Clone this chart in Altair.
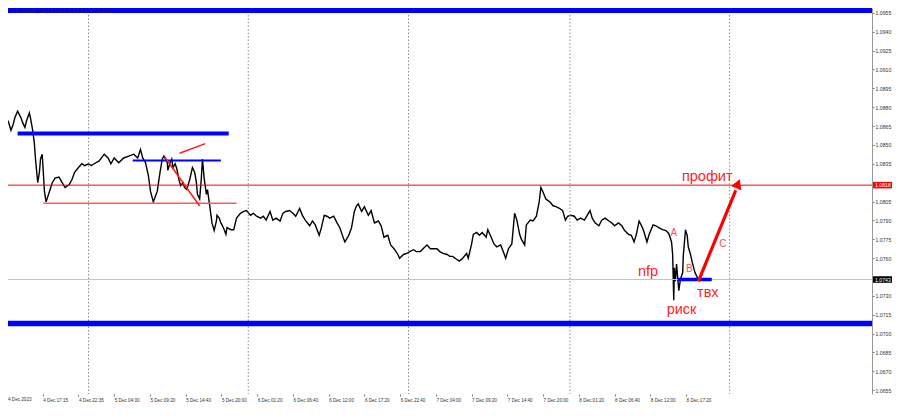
import altair as alt
import pandas as pd

# ---- price series (M5 bar index, close price) ----
bars = [2, 7, 11, 14, 19, 25, 28, 32, 35, 40, 42, 46, 49, 51, 55, 58, 60, 63, 65, 67,
        70, 76, 81, 86, 93, 98, 104, 111, 116, 121, 128, 134, 139, 146, 151, 156, 165, 174, 181, 186,
        192, 200, 209, 218, 227, 234, 239, 243, 248, 253, 257, 262, 269, 274, 278, 281, 287, 288, 292, 295,
        297, 301, 304, 308, 311, 315, 318, 322, 327, 332, 336, 339, 341, 345, 348, 350, 353, 357, 359, 362,
        366, 367, 371, 375, 376, 380, 383, 385, 389, 392, 394, 401, 406, 411, 418, 424, 429, 436, 441, 447,
        454, 459, 464, 471, 476, 482, 489, 494, 499, 506, 512, 517, 524, 529, 534, 542, 547, 552, 559, 563,
        568, 573, 578, 585, 591, 596, 603, 605, 612, 617, 622, 626, 629, 635, 640, 647, 652, 658, 665, 670,
        675, 682, 687, 693, 700, 703, 710, 716, 721, 728, 733, 740, 745, 752, 758, 763, 770, 775, 781, 788,
        793, 798, 805, 810, 816, 823, 826, 832, 835, 841, 846, 851, 858, 861, 867, 872, 877, 884, 890, 893,
        898, 904, 909, 913, 918, 921, 927, 930, 937, 942, 948, 953, 956, 960, 965, 972, 978, 983, 990, 995,
        1000, 1004, 1009, 1016, 1021, 1027, 1034, 1039, 1044, 1048, 1053, 1060, 1065, 1071, 1078, 1083, 1088, 1095, 1101, 1106,
        1113, 1118, 1123, 1127, 1132, 1138, 1141, 1146, 1150, 1157, 1162, 1167, 1174, 1180, 1185, 1190, 1192, 1194, 1195, 1197,
        1199, 1203, 1206, 1210, 1211, 1215, 1218, 1220, 1224, 1227, 1232, 1238]
prices = [1.08692, 1.08616, 1.08662, 1.08715, 1.08768, 1.08715, 1.08677, 1.08639, 1.08692, 1.08753,
          1.08715, 1.08616, 1.08510, 1.08388, 1.08199, 1.08282, 1.08388, 1.08426, 1.08282, 1.08130,
          1.08047, 1.08130, 1.08199, 1.08236, 1.08244, 1.08206, 1.08161, 1.08183, 1.08221, 1.08282,
          1.08320, 1.08350, 1.08335, 1.08350, 1.08335, 1.08350, 1.08373, 1.08426, 1.08396, 1.08350,
          1.08396, 1.08358, 1.08396, 1.08411, 1.08426, 1.08396, 1.08464, 1.08396, 1.08358, 1.08259,
          1.08130, 1.08047, 1.08130, 1.08282, 1.08388, 1.08411, 1.08358, 1.08297, 1.08358, 1.08388,
          1.08320, 1.08350, 1.08312, 1.08221, 1.08176, 1.08199, 1.08161, 1.08145, 1.08221, 1.08320,
          1.08282, 1.08206, 1.08107, 1.08069, 1.08236, 1.08388, 1.08236, 1.08107, 1.08145, 1.08047,
          1.07918, 1.07880, 1.07819, 1.07895, 1.07940, 1.07918, 1.07880, 1.07864, 1.07826, 1.07789,
          1.07842, 1.07826, 1.07826, 1.07918, 1.07956, 1.07971, 1.07978, 1.07940, 1.07956, 1.07933,
          1.07918, 1.07933, 1.07902, 1.07971, 1.07902, 1.07918, 1.07895, 1.07956, 1.07971, 1.07978,
          1.07956, 1.07933, 1.07994, 1.07940, 1.07902, 1.07857, 1.07895, 1.07864, 1.07781, 1.07842,
          1.07940, 1.07933, 1.07918, 1.07933, 1.07880, 1.07842, 1.07751, 1.07728, 1.07781, 1.07842,
          1.07971, 1.08016, 1.08031, 1.07971, 1.08009, 1.07940, 1.07978, 1.07880, 1.07895, 1.07857,
          1.07766, 1.07781, 1.07705, 1.07675, 1.07629, 1.07599, 1.07629, 1.07637, 1.07652, 1.07667,
          1.07652, 1.07652, 1.07675, 1.07705, 1.07675, 1.07675, 1.07675, 1.07652, 1.07637, 1.07629,
          1.07614, 1.07614, 1.07591, 1.07576, 1.07599, 1.07637, 1.07599, 1.07713, 1.07789, 1.07804,
          1.07781, 1.07804, 1.07766, 1.07826, 1.07766, 1.07713, 1.07690, 1.07705, 1.07637, 1.07599,
          1.07675, 1.07713, 1.07956, 1.07902, 1.07789, 1.07751, 1.07705, 1.07864, 1.07902, 1.07895,
          1.07933, 1.08047, 1.08161, 1.08123, 1.08069, 1.08047, 1.08016, 1.08009, 1.07994, 1.07978,
          1.07902, 1.07933, 1.07940, 1.07933, 1.07902, 1.07918, 1.07902, 1.07940, 1.07978, 1.07918,
          1.07880, 1.07857, 1.07902, 1.07918, 1.07895, 1.07880, 1.07857, 1.07880, 1.07857, 1.07819,
          1.07789, 1.07781, 1.07728, 1.07789, 1.07895, 1.07842, 1.07804, 1.07728, 1.07789, 1.07864,
          1.07857, 1.07842, 1.07826, 1.07819, 1.07796, 1.07728, 1.07629, 1.07265, 1.07523, 1.07416,
          1.07553, 1.07341, 1.07432, 1.07485, 1.07614, 1.07826, 1.07781, 1.07690, 1.07629, 1.07568,
          1.07485, 1.07430]

# ---- axis text ----
x_labels = ["4 Dec 2023", "4 Dec 17:15", "4 Dec 22:35", "5 Dec 04:00", "5 Dec 09:20",
            "5 Dec 14:40", "5 Dec 20:00", "6 Dec 01:20", "6 Dec 06:40", "6 Dec 12:00",
            "6 Dec 17:20", "6 Dec 22:40", "7 Dec 04:00", "7 Dec 09:20", "7 Dec 14:40",
            "7 Dec 20:00", "8 Dec 01:20", "8 Dec 06:40", "8 Dec 12:00", "8 Dec 17:20"]
bars_per_label = 64
y_ticks = [1.0955, 1.0940, 1.0925, 1.0910, 1.0895, 1.0880, 1.0865, 1.0850, 1.0835,
           1.0805, 1.0790, 1.0775, 1.0760, 1.0730, 1.0715, 1.0700, 1.0685, 1.0670, 1.0655]
day_separators = [146, 432, 719, 1008, 1294]
title_text = "\u25bc EURUSD,M5  1.0742 1.0744 1.0741 1.0743"

# ---- drawn levels ----
blue_top = 1.0957
blue_bottom = 1.0708
profit_level = 1.0818
entry_level = 1.0743
upper_blue = {"b0": 19, "b1": 397, "p": 1.0859}
thin_blue = {"b0": 225, "b1": 383, "p": 1.08375}
pink_level = {"b0": 65, "b1": 411, "p": 1.08037}
entry_blue = {"b0": 1201, "b1": 1262, "p": 1.0743}
red_diag1 = {"b0": 309, "p0": 1.08434, "b1": 355, "p1": 1.08510}
red_diag2 = {"b0": 282, "p0": 1.08406, "b1": 345, "p1": 1.08014}
arrow = {"b0": 1238, "p0": 1.07416, "b1": 1305, "p1": 1.08138}
arrow_head = {"b": 1309, "p": 1.08191}

big_notes = pd.DataFrame({"b": [1254, 1148, 1255, 1208],
                          "p": [1.08244, 1.07492, 1.07325, 1.07189],
                          "t": ["профит", "nfp", "твх", "риск"]})
small_notes = pd.DataFrame({"b": [1194, 1222, 1282],
                            "p": [1.07796, 1.07515, 1.07713],
                            "t": ["A", "B", "C"]})
price_tags = pd.DataFrame({"p": [profit_level, entry_level],
                           "t": ["1.0818", "1.0743"],
                           "bg": ["#ff0000", "#000000"]})

W, H = 864, 386
xs = alt.Scale(domain=[1.76, 1549], nice=False, zero=False)
ys = alt.Scale(domain=[1.0652, 1.09588], nice=False, zero=False)

label_expr = "[" + ",".join("'" + s + "'" for s in x_labels) + "][round(datum.value/%d)]" % bars_per_label

AX = alt.Axis(values=[bars_per_label * i for i in range(1, len(x_labels))],
              labelExpr=label_expr, labelAlign="left", labelBaseline="top",
              labelFont="Liberation Sans", labelFontSize=4.6, labelColor="#333333",
              labelPadding=1, tickSize=2, tickColor="#777777", domain=False,
              grid=False, labelOverlap=False, labelFlush=False, title=None)
AY = alt.Axis(orient="right", values=y_ticks, format=".4f",
              labelFont="Liberation Sans", labelFontSize=5.2, labelColor="#333333",
              labelPadding=1, tickSize=2, tickColor="#777777",
              domainColor="#999999", grid=False, labelOverlap=False, labelFlush=False, title=None)


def X(f="b"):
    return alt.X(f"{f}:Q", scale=xs, axis=AX)


def Y(f="p"):
    return alt.Y(f"{f}:Q", scale=ys, axis=AY)


series = pd.DataFrame({"b": bars, "p": prices})
price_line = alt.Chart(series).mark_line(color="#000000", strokeWidth=1.4, clip=True).encode(
    x=X(), y=Y())

seps = alt.Chart(pd.DataFrame({"b": day_separators})).mark_rule(
    color="#8a8a8a", strokeDash=[1.5, 2], strokeWidth=1).encode(x=X())

gray_line = alt.Chart(pd.DataFrame({"p": [entry_level]})).mark_rule(
    color="#c4c4c4", strokeWidth=1).encode(y=Y())
red_line = alt.Chart(pd.DataFrame({"p": [profit_level]})).mark_rule(
    color="#ff0000", strokeWidth=1).encode(y=Y())
blue_full = alt.Chart(pd.DataFrame({"p": [blue_top, blue_bottom]})).mark_rule(
    color="#0000ff", strokeWidth=5.5).encode(y=Y())


def seg(d, **kw):
    return alt.Chart(pd.DataFrame([d])).mark_rule(clip=True, **kw).encode(
        x=X("b0"), x2="b1", y=Y("p"))


def diag(d, **kw):
    return alt.Chart(pd.DataFrame([d])).mark_rule(**kw).encode(
        x=X("b0"), x2="b1", y=Y("p0"), y2="p1")


upper_blue_l = seg(upper_blue, color="#0000ff", strokeWidth=4)
thin_blue_l = seg(thin_blue, color="#0000ff", strokeWidth=2)
pink_l = seg(pink_level, color="#ff5a5a", strokeWidth=1.5)
entry_blue_l = seg(entry_blue, color="#0000ff", strokeWidth=3.5)
diag1_l = diag(red_diag1, color="#ff1a1a", strokeWidth=1.5)
diag2_l = diag(red_diag2, color="#ff1a1a", strokeWidth=1.5)
arrow_l = diag(arrow, color="#ff0000", strokeWidth=3.2)
head_l = alt.Chart(pd.DataFrame([arrow_head])).mark_point(
    shape="triangle-up", filled=True, opacity=1, color="#ff0000", size=120, angle=22
).encode(x=X(), y=Y())

big_text = alt.Chart(big_notes).mark_text(
    font="Liberation Sans", fontSize=14.5, color="#ff2222", baseline="middle", align="center"
).encode(x=X(), y=Y(), text="t:N")
small_text = alt.Chart(small_notes).mark_text(
    font="Liberation Sans", fontSize=10, color="#ff4a5a", baseline="middle", align="center"
).encode(x=X(), y=Y(), text="t:N")

tag_half = 0.00026
tags = pd.DataFrame({"p": price_tags["p"], "t": price_tags["t"], "bg": price_tags["bg"],
                     "hi": price_tags["p"] + tag_half, "lo": price_tags["p"] - tag_half})
tag_box = alt.Chart(tags).mark_rect().encode(
    x=alt.value(W + 1), x2=alt.value(W + 20), y=Y("hi"), y2="lo",
    color=alt.Color("bg:N", scale=None))
tag_txt = alt.Chart(tags).mark_text(
    font="Liberation Sans", fontSize=5.2, color="#ffffff", align="left", baseline="middle"
).encode(x=alt.value(W + 3), y=Y(), text="t:N")

first_label = alt.Chart(pd.DataFrame({"t": [x_labels[0]]})).mark_text(
    font="Liberation Sans", fontSize=4.6, color="#333333", align="left", baseline="top"
).encode(x=alt.value(0), y=alt.value(H + 3), text="t:N")

title = alt.Chart(pd.DataFrame({"t": [title_text]})).mark_text(
    font="Liberation Sans", fontSize=5, color="#222222", align="left", baseline="middle"
).encode(x=alt.value(1), y=alt.value(3), text="t:N")

chart = alt.layer(
    price_line, seps, gray_line, red_line, blue_full, pink_l, upper_blue_l, thin_blue_l,
    diag1_l, diag2_l, entry_blue_l, arrow_l, head_l,
    big_text, small_text, tag_box, tag_txt, first_label, title
).properties(
    width=W, height=H,
    autosize=alt.AutoSizeParams(type="none"),
    padding={"left": 0, "top": 0, "right": 20, "bottom": 12},
    background="#ffffff",
).configure_view(stroke=None)

chart.save("out.html", embed_options={"renderer": "svg", "actions": False})
